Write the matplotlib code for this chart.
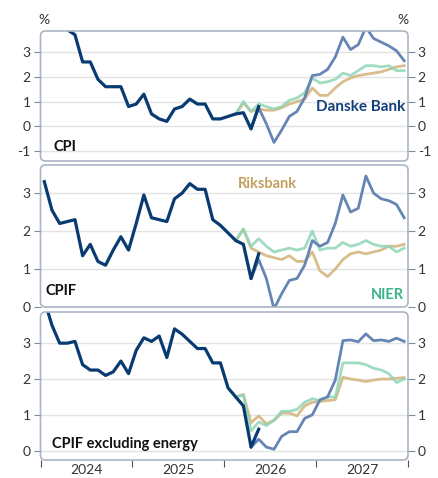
import numpy as np
import matplotlib
matplotlib.use('Agg')
import matplotlib.pyplot as plt
from matplotlib.patches import FancyBboxPatch

plt.rcParams['font.family'] = ['Lato', 'DejaVu Sans']

# monthly data, month 0 = Jan 2024
year_labels = ['2024', '2025', '2026', '2027']
nier_start = 25      # NIER and Riksbank forecasts start here
danske_start = 27    # Danske Bank forecast starts here

# CPI
cpi_actual = [5.4, 4.5, 4.1, 3.9, 3.7, 2.6, 2.6, 1.9, 1.6, 1.6, 1.6, 0.8, 0.9, 1.3, 0.5,
              0.3, 0.2, 0.7, 0.8, 1.1, 0.9, 0.9, 0.3, 0.3, 0.4, 0.5, 0.55, -0.1, 0.8]
cpi_nier = [0.5, 1.0, 0.6, 0.9, 0.8, 0.7, 0.8, 1.05, 1.15, 1.35, 1.95, 1.75, 1.8, 1.9,
            2.15, 2.05, 2.25, 2.45, 2.45, 2.4, 2.45, 2.25, 2.25]
cpi_riks = [0.5, 0.95, 0.6, 0.7, 0.65, 0.65, 0.75, 0.9, 1.0, 1.1, 1.55, 1.25, 1.25, 1.55,
            1.8, 1.95, 2.05, 2.1, 2.15, 2.2, 2.3, 2.4, 2.45]
cpi_danske = [-0.1, 0.75, 0.1, -0.65, -0.15, 0.4, 0.6, 1.15, 2.05, 2.1, 2.3, 2.8, 3.6,
              3.1, 3.3, 4.0, 3.55, 3.4, 3.25, 3.05, 2.65]

# CPIF
cpif_actual = [3.3, 2.55, 2.2, 2.25, 2.3, 1.35, 1.65, 1.2, 1.1, 1.5, 1.85, 1.5, 2.2, 2.95,
               2.35, 2.3, 2.25, 2.85, 3.0, 3.25, 3.1, 3.1, 2.3, 2.15, 1.95, 1.75, 1.65, 0.75, 1.4]
cpif_nier = [1.75, 2.05, 1.6, 1.8, 1.6, 1.45, 1.5, 1.55, 1.5, 1.55, 2.0, 1.5, 1.55, 1.55,
             1.7, 1.6, 1.65, 1.75, 1.65, 1.6, 1.6, 1.45, 1.55]
cpif_riks = [1.75, 2.05, 1.55, 1.45, 1.35, 1.3, 1.25, 1.35, 1.2, 1.2, 1.45, 0.95, 0.8, 1.0,
             1.25, 1.4, 1.45, 1.4, 1.45, 1.5, 1.6, 1.6, 1.65]
cpif_danske = [0.75, 1.25, 0.75, -0.05, 0.35, 0.7, 0.75, 1.1, 1.75, 1.6, 1.7, 2.2, 2.95,
               2.5, 2.6, 3.45, 3.0, 2.85, 2.8, 2.7, 2.35]

# CPIF excluding energy
cpifxe_actual = [4.2, 3.5, 3.0, 3.0, 3.05, 2.4, 2.25, 2.25, 2.1, 2.2, 2.5, 2.15, 2.8, 3.15,
                 3.05, 3.2, 2.6, 3.4, 3.25, 3.05, 2.85, 2.85, 2.45, 2.45, 1.75, 1.5, 1.25, 0.1, 0.6]
cpifxe_nier = [1.5, 1.55, 0.55, 0.8, 0.7, 0.85, 1.1, 1.1, 1.15, 1.35, 1.45, 1.4, 1.5, 1.5,
               2.45, 2.45, 2.45, 2.4, 2.3, 2.25, 2.15, 1.9, 2.0]
cpifxe_riks = [1.5, 1.57, 0.78, 0.97, 0.75, 0.85, 1.05, 1.05, 0.97, 1.25, 1.35, 1.37, 1.4,
               1.42, 2.05, 2.0, 1.97, 1.93, 1.97, 2.0, 2.0, 2.02, 2.04]
cpifxe_danske = [0.1, 0.32, 0.1, 0.04, 0.4, 0.53, 0.53, 0.9, 1.0, 1.42, 1.5, 1.97, 3.07,
                 3.09, 3.04, 3.26, 3.07, 3.09, 3.05, 3.14, 3.05]

C_ACTUAL = '#093b73'
C_DANSKE = '#6685b4'
C_NIER = '#8fd5b8'
C_RIKS = '#d9bd8c'
C_FRAME = '#aab5c4'

W, H = 438, 478
fig = plt.figure(figsize=(W / 100, H / 100), dpi=100)


def px_text(x, y, s, **kw):
    fig.text(x / W, 1 - y / H, s, **kw)


def make_panel(top, bottom, ylim, yticks, series, bottom_panel=False):
    left, right = 40.5, 408
    ax = fig.add_axes([left / W, 1 - bottom / H, (right - left) / W, (bottom - top) / H])
    actual, nier, riks, danske = series
    x_act = np.arange(len(actual)) + 0.5
    x_nier = np.arange(len(nier)) + nier_start + 0.5
    x_dan = np.arange(len(danske)) + danske_start + 0.5
    ax.plot(x_nier, riks, color=C_RIKS, lw=2.0, zorder=3)
    ax.plot(x_nier, nier, color=C_NIER, lw=2.0, alpha=0.85, zorder=4)
    ax.plot(x_dan, danske, color=C_DANSKE, lw=2.0, zorder=5)
    ax.plot(x_act, actual, color=C_ACTUAL, lw=2.3, zorder=6)
    ax.set_xlim(0, 48)
    ax.set_ylim(*ylim)
    ax.set_yticks(yticks)
    ax.set_yticklabels([str(v) for v in yticks])
    for v in yticks:
        ax.axhline(v, color='#e3e3e3', lw=1.0, zorder=1)
    for s in ax.spines.values():
        s.set_visible(False)
    ax.tick_params(axis='y', left=True, right=True, labelleft=True, labelright=True,
                   length=5, width=0.8, color='#7f8a99', labelsize=10,
                   labelcolor='#333333', pad=2)
    if bottom_panel:
        ax.set_xticks([0, 12, 24, 36, 48])
        ax.set_xticklabels([])
        ax.set_xticks([6, 18, 30, 42], minor=True)
        ax.set_xticklabels(year_labels, minor=True)
        ax.tick_params(axis='x', which='major', length=5, width=0.8, color='#555555')
        ax.tick_params(axis='x', which='minor', length=0, labelsize=10,
                       labelcolor='#333333', pad=3)
    else:
        ax.set_xticks([])
    w_px, h_px = right - left, bottom - top
    frame = FancyBboxPatch((0, 0), 1, 1, boxstyle='round,pad=0,rounding_size=%f' % (5 / w_px),
                           mutation_aspect=w_px / h_px, transform=ax.transAxes,
                           facecolor='none', edgecolor=C_FRAME, lw=1.2,
                           clip_on=False, zorder=7)
    ax.add_patch(frame)
    return ax


make_panel(31, 161, (-1.4, 3.85), [-1, 0, 1, 2, 3],
           (cpi_actual, cpi_nier, cpi_riks, cpi_danske))
make_panel(165, 307, (0, 3.74), [0, 1, 2, 3],
           (cpif_actual, cpif_nier, cpif_riks, cpif_danske))
make_panel(312, 460, (-0.26, 3.87), [0, 1, 2, 3],
           (cpifxe_actual, cpifxe_nier, cpifxe_riks, cpifxe_danske), bottom_panel=True)

# units and labels
px_text(44, 20, '%', fontsize=10, color='#333333', ha='center', va='center')
px_text(403, 20, '%', fontsize=10, color='#333333', ha='center', va='center')
px_text(54, 147, 'CPI', fontsize=10.5, fontweight='bold', color='#111111', va='center')
px_text(405, 107, 'Danske Bank', fontsize=11, fontweight='bold', color='#133f78',
        ha='right', va='center')
px_text(45, 291, 'CPIF', fontsize=10.5, fontweight='bold', color='#111111', va='center')
px_text(238, 184, 'Riksbank', fontsize=10.5, fontweight='bold', color='#c4a062', va='center')
px_text(404, 295, 'NIER', fontsize=10.5, fontweight='bold', color='#3bb487',
        ha='right', va='center')
px_text(52, 444, 'CPIF excluding energy', fontsize=10.5, fontweight='bold',
        color='#111111', va='center')

fig.savefig('out.png', dpi=100)
